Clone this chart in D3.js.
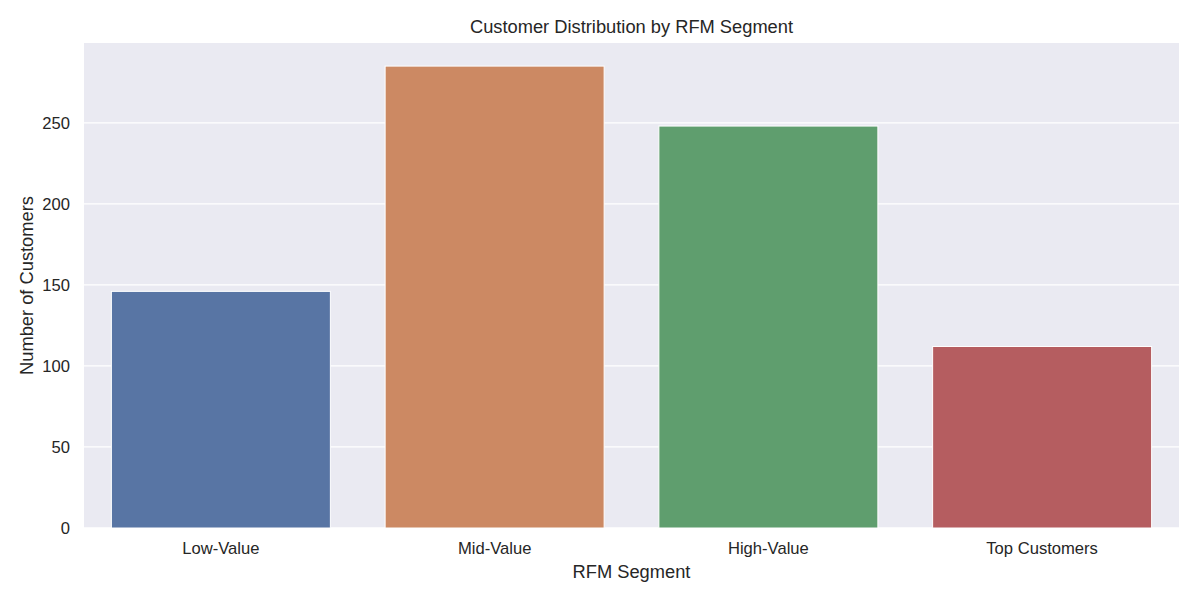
<!DOCTYPE html>
<html>
<head>
<meta charset="utf-8">
<script src="https://cdn.jsdelivr.net/npm/d3@7"></script>
<style>
  body { margin: 0; background: #fff; }
  svg text { font-family: "Liberation Sans", Arial, sans-serif; fill: #262626; }
</style>
</head>
<body>
<div class="container"></div>
<script>
// chart data
const segments = ["Low-Value", "Mid-Value", "High-Value", "Top Customers"];
const customers = [146, 285, 248, 112];
const yTicks = [0, 50, 100, 150, 200, 250];
const barColors = ["#5875a4", "#cc8963", "#5f9e6e", "#b55d60"];

const w = 1200;
const h = 600;
const margin = { top: 43, right: 21, bottom: 72, left: 84 };

const svg = d3.select(".container")
  .append("svg")
  .attr("width", w)
  .attr("height", h);

/* Scales */
const xScale = d3.scaleBand()
  .domain(segments)
  .range([margin.left, w - margin.right])
  .paddingInner(0.2)
  .paddingOuter(0.1);

const yScale = d3.scaleLinear()
  .domain([0, d3.max(customers) * 1.05])
  .range([h - margin.bottom, margin.top]);

/* Axes background */
svg.append("rect")
  .attr("x", margin.left)
  .attr("y", margin.top)
  .attr("width", w - margin.left - margin.right)
  .attr("height", h - margin.top - margin.bottom)
  .attr("fill", "#eaeaf2");

/* Horizontal grid lines */
svg.append("g")
  .selectAll("line")
  .data(yTicks)
  .enter()
  .append("line")
  .attr("x1", margin.left)
  .attr("x2", w - margin.right)
  .attr("y1", (d) => yScale(d))
  .attr("y2", (d) => yScale(d))
  .attr("stroke", "#fff")
  .attr("stroke-width", 1.3);

/* Bars */
svg.selectAll(".bar")
  .data(segments)
  .enter()
  .append("rect")
  .attr("class", "bar")
  .attr("x", (d) => xScale(d))
  .attr("y", (d, i) => yScale(customers[i]))
  .attr("width", xScale.bandwidth())
  .attr("height", (d, i) => yScale(0) - yScale(customers[i]))
  .attr("fill", (d, i) => barColors[i])
  .attr("stroke", "#fff")
  .attr("stroke-width", 1);

/* Axes without domain lines or tick marks */
const xAxis = d3.axisBottom(xScale).tickSize(0).tickPadding(14);
const yAxis = d3.axisLeft(yScale).tickValues(yTicks).tickSize(0).tickPadding(14);

svg.append("g")
  .attr("id", "x-axis")
  .attr("transform", "translate(0," + (h - margin.bottom) + ")")
  .call(xAxis)
  .call((g) => g.select(".domain").remove())
  .selectAll("text")
  .style("font-size", "16.6px")
  .style("font-family", "'Liberation Sans', Arial, sans-serif")
  .attr("fill", "#262626");

svg.append("g")
  .attr("id", "y-axis")
  .attr("transform", "translate(" + margin.left + ",0)")
  .call(yAxis)
  .call((g) => g.select(".domain").remove())
  .selectAll("text")
  .style("font-size", "16.6px")
  .style("font-family", "'Liberation Sans', Arial, sans-serif")
  .attr("fill", "#262626");

/* Title and labels */
svg.append("text")
  .attr("x", (margin.left + w - margin.right) / 2)
  .attr("y", 33)
  .attr("text-anchor", "middle")
  .style("font-size", "18.3px")
  .text("Customer Distribution by RFM Segment");

svg.append("text")
  .attr("x", (margin.left + w - margin.right) / 2)
  .attr("y", 578)
  .attr("text-anchor", "middle")
  .style("font-size", "18.3px")
  .text("RFM Segment");

svg.append("text")
  .attr("transform", "translate(33," + ((margin.top + h - margin.bottom) / 2) + ") rotate(-90)")
  .attr("text-anchor", "middle")
  .style("font-size", "18.3px")
  .text("Number of Customers");
</script>
</body>
</html>
